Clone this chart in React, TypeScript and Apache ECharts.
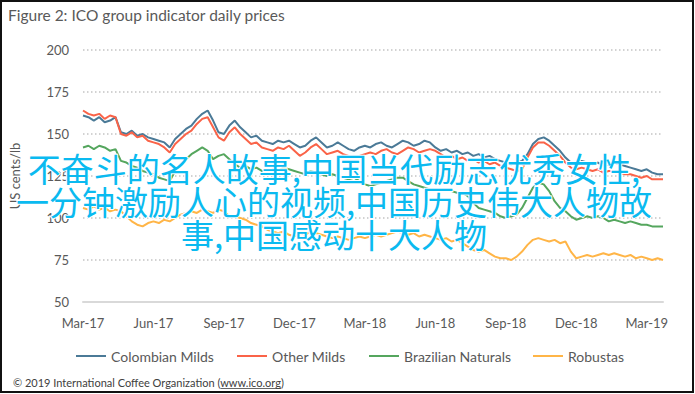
import React, { useEffect, useRef } from "react";
import * as echarts from "echarts";

// weekly observations starting 1 Mar 2017
const weeks: string[] = Array.from({ length: 108 }, (_, i) => String(i));
const tickIndex = [0, 13, 26, 39, 52, 65, 78, 91, 104];
const tickLabels = ["Mar-17", "Jun-17", "Sep-17", "Dec-17", "Mar-18", "Jun-18", "Sep-18", "Dec-18", "Mar-19"];
const yTicks = [50, 75, 100, 125, 150, 175, 200];

const colombianMilds = [
  161, 160, 158, 160, 157, 158, 160, 151, 150, 152,
  149, 150, 148, 147, 146, 145, 142, 147, 150, 153,
  155, 159, 162, 164, 158, 151, 150, 155, 158, 154,
  151, 148, 149, 146, 145, 144, 146, 145, 146, 144,
  142, 143, 146, 148, 145, 142, 143, 145, 143, 141,
  140, 142, 143, 142, 144, 145, 143, 142, 144, 146,
  145, 143, 144, 146, 145, 142, 140, 141, 139, 140,
  138, 139, 137, 138, 136, 137, 135, 134, 133, 132,
  133, 134, 138, 144, 147, 148, 146, 143, 140, 136,
  133, 132, 134, 133, 132, 133, 131, 132, 133, 132,
  131, 130, 129, 128, 129, 127, 126, 126,
];
const otherMilds = [
  164, 162, 161, 162, 159, 161, 160, 150, 149, 151,
  148, 149, 146, 145, 144, 142, 139, 144, 147, 150,
  152, 156, 159, 160, 154, 148, 146, 151, 154, 150,
  147, 144, 145, 142, 141, 140, 142, 141, 143, 140,
  137, 139, 142, 144, 141, 138, 139, 140, 138, 137,
  136, 137, 138, 139, 138, 140, 141, 139, 138, 140,
  142, 141, 139, 140, 141, 140, 138, 136, 137, 135,
  136, 134, 135, 133, 134, 132, 133, 131, 130, 129,
  128, 129, 136, 142, 145, 145, 143, 140, 137, 133,
  130, 129, 130, 129, 128, 129, 127, 128, 128, 127,
  126, 126, 125, 124, 125, 123, 123, 123,
];
const brazilianNaturals = [
  142, 143, 141, 143, 142, 140, 141, 134, 133, 131,
  130, 128, 127, 126, 124, 123, 122, 128, 132, 135,
  138, 140, 142, 140, 135, 137, 138, 135, 132, 130,
  131, 129, 130, 128, 127, 129, 128, 130, 129, 128,
  127, 126, 128, 127, 126, 125, 126, 125, 124, 123,
  124, 122, 120, 119, 120, 121, 122, 123, 124, 124,
  122, 120, 119, 118, 117, 117, 116, 117, 116, 115,
  115, 113, 109, 106, 105, 104, 103, 101, 100, 101,
  102, 106, 112, 118, 121, 120, 116, 110, 106, 104,
  101, 99, 100, 101, 100, 101, 100, 98, 99, 98,
  97, 98, 97, 96, 96, 95, 95, 95,
];
const robustas = [
  106, 105, 107, 105, 106, 104, 105, 104, 101, 98,
  96, 95, 97, 98, 97, 99, 98, 100, 102, 103,
  104, 103, 105, 104, 103, 105, 104, 101, 101, 100,
  99, 97, 96, 95, 93, 92, 91, 92, 90, 89,
  91, 90, 92, 91, 90, 89, 88, 89, 88, 87,
  88, 89, 88, 89, 90, 89, 90, 91, 92, 91,
  90, 91, 89, 90, 89, 88, 87, 88, 86, 87,
  85, 83, 81, 80, 81, 79, 77, 76, 76, 75,
  77, 80, 84, 87, 88, 87, 86, 87, 85, 86,
  80, 76, 77, 78, 77, 78, 79, 78, 79, 78,
  77, 78, 76, 77, 76, 75, 76, 75,
];

const seriesNames = ["Colombian Milds", "Other Milds", "Brazilian Naturals", "Robustas"];
const seriesColors = ["#4B7A97", "#FA6348", "#55A65E", "#FFB547"];
const seriesData = [colombianMilds, otherMilds, brazilianNaturals, robustas];
const legendLeft = [71, 232, 364, 528];

const titleText = "Figure 2: ICO group indicator daily prices";
const yAxisName = "US cents/lb";
const overlayText = "不奋斗的名人故事,中国当代励志优秀女性,\n一分钟激励人心的视频,中国历史伟大人物故\n事,中国感动十大人物";
const footerA = "© 2019 International Coffee Organization (";
const footerLink = "www.ico.org";
const footerB = ")";

const FONT = "Lato, 'Open Sans', sans-serif";

function measure(text: string, size: number): number {
  const c = document.createElement("canvas").getContext("2d");
  if (!c) return text.length * size * 0.5;
  c.font = `${size}px Lato`;
  return c.measureText(text).width;
}

export default function App() {
  const ref = useRef<HTMLDivElement>(null);
  useEffect(() => {
    document.body.style.margin = "0";
    if (!ref.current) return;
    const chart = echarts.init(ref.current, undefined, { renderer: "svg" });
    const footX = 13;
    const footSize = 11;
    const wA = measure(footerA, footSize);
    const wL = measure(footerLink, footSize);
    chart.setOption({
      animation: false,
      backgroundColor: "#fff",
      textStyle: { fontFamily: FONT },
      grid: { left: 78, right: 32, top: 50, bottom: 92, containLabel: false },
      legend: seriesNames.map((n, i) => ({
        data: [n],
        left: legendLeft[i],
        top: 344,
        icon: "rect",
        itemWidth: 30,
        itemHeight: 2,
        itemGap: 0,
        textStyle: { color: "#595959", fontSize: 14, fontFamily: FONT },
        selectedMode: false,
      })),
      xAxis: {
        type: "category",
        data: weeks,
        boundaryGap: false,
        axisTick: { show: false },
        axisLine: { show: true, lineStyle: { color: "#D9D9D9", width: 2 } },
        axisLabel: {
          interval: (index: number) => tickIndex.indexOf(index) >= 0,
          formatter: (_v: string, index: number) => {
            const k = tickIndex.indexOf(index);
            return k >= 0 ? tickLabels[k] : "";
          },
          color: "#595959",
          fontSize: 13,
          margin: 14,
          fontFamily: FONT,
        },
        splitLine: { show: false },
      },
      yAxis: {
        type: "value",
        min: yTicks[0],
        max: yTicks[yTicks.length - 1],
        interval: 25,
        name: yAxisName,
        nameLocation: "middle",
        nameGap: 62,
        nameTextStyle: { color: "#595959", fontSize: 13, fontFamily: FONT },
        axisLine: { show: false },
        axisTick: { show: false },
        axisLabel: { color: "#595959", fontSize: 13, margin: 14, fontFamily: FONT },
        splitLine: { show: true, lineStyle: { color: "#C4C4C4", type: [1.5, 2.5], width: 1.5 } },
      },
      series: seriesNames.map((n, i) => ({
        name: n,
        type: "line",
        data: seriesData[i],
        showSymbol: false,
        symbol: "none",
        color: seriesColors[i],
        lineStyle: { color: seriesColors[i], width: 2 },
        z: 2 + i,
      })),
      graphic: [
        {
          type: "rect",
          shape: { x: 1, y: 1, width: 692, height: 391 },
          style: { fill: "none", stroke: "#111", lineWidth: 2 },
          silent: true,
          z: 100,
        },
        {
          type: "text",
          x: 8,
          y: 15,
          style: {
            text: titleText,
            fill: "#595959",
            fontSize: 15.5,
            fontFamily: FONT,
            textVerticalAlign: "middle",
          },
        },
        {
          type: "text",
          x: footX,
          y: 382,
          style: {
            text: footerA + footerLink + footerB,
            fill: "#404040",
            fontSize: footSize,
            fontFamily: "Lato",
            textVerticalAlign: "middle",
          },
        },
        {
          type: "line",
          shape: { x1: footX + wA, y1: 388.5, x2: footX + wA + wL, y2: 388.5 },
          style: { stroke: "#404040", lineWidth: 0.8 },
        },
        {
          type: "text",
          x: 334,
          y: 201,
          z: 200,
          style: {
            text: overlayText,
            fill: "#0ABAF0",
            fontSize: 33,
            lineHeight: 33,
            fontFamily: "'Noto Sans CJK SC', sans-serif",
            textAlign: "center",
            textVerticalAlign: "middle",
            stroke: "#ffffff",
            lineWidth: 2,
          },
        },
      ],
    });
    return () => chart.dispose();
  }, []);
  return <div ref={ref} style={{ width: 695, height: 394 }} />;
}
